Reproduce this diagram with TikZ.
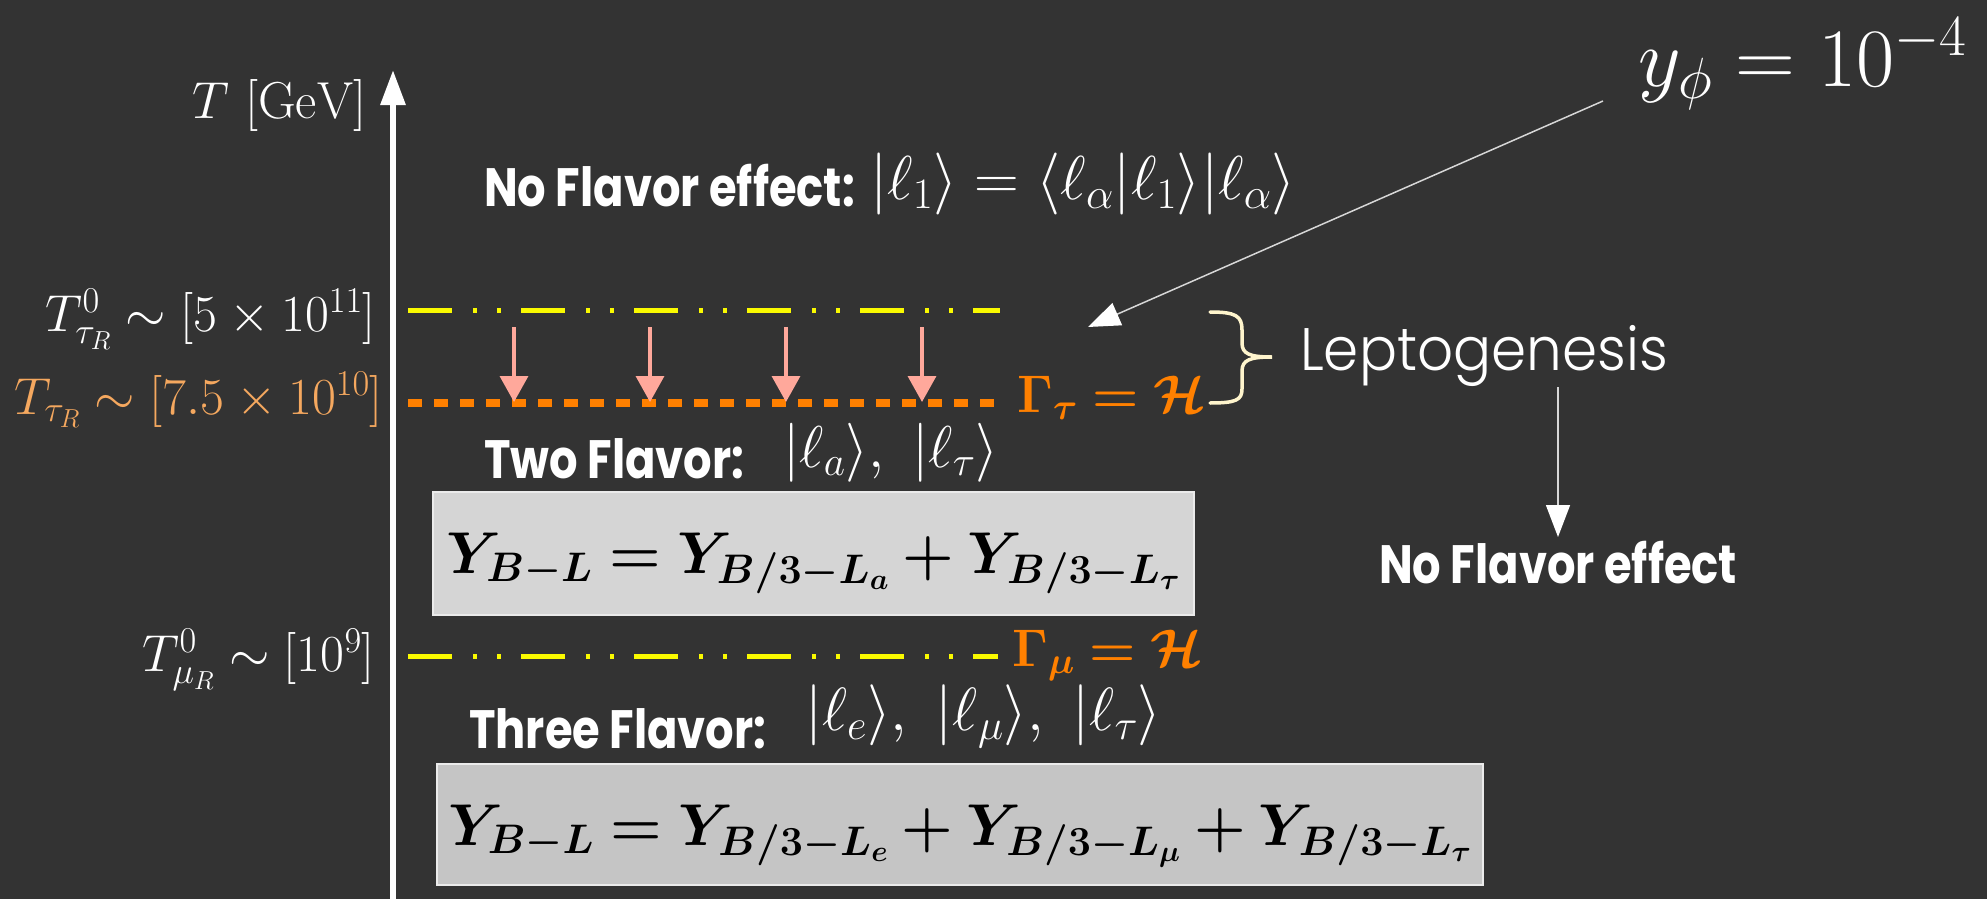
\RequirePackage{fix-cm}
\documentclass[tikz,border=0pt]{standalone}
\usepackage[no-math]{fontspec}
\usepackage{amsmath,bm}
\newfontfamily\gothic[FakeStretch=0.83]{Poppins}
\newfontfamily\gothiclight[FakeStretch=0.94]{Poppins Light}
\usetikzlibrary{arrows.meta}
\definecolor{bg}{RGB}{51,51,51}
\definecolor{lyellow}{RGB}{250,250,0}
\definecolor{gorange}{RGB}{255,128,0}
\definecolor{tan}{RGB}{245,168,95}
\definecolor{pinkc}{RGB}{255,168,155}
\definecolor{cream}{RGB}{255,245,205}
\definecolor{lgray}{RGB}{215,215,215}
\definecolor{boxa}{RGB}{213,213,213}
\definecolor{boxb}{RGB}{197,197,197}
\definecolor{boxedge}{RGB}{235,235,235}
\begin{document}
\begin{tikzpicture}[x=1pt,y=-1pt,
  lbl/.style={text=white,inner sep=0pt,font={\fontsize{52}{62}\selectfont}},
  ketm/.style={text=white,inner sep=0pt},
  sansb/.style={text=white,inner sep=0pt,font={\gothic\bfseries\fontsize{54}{64}\selectfont}},
  lepto/.style={text=white,inner sep=0pt,font={\gothiclight\fontsize{60}{70}\selectfont}},
  gam/.style={text=gorange,inner sep=0pt,font={\fontsize{53}{63}\selectfont}},
  eqbox/.style={draw=boxedge,line width=2pt,inner sep=0pt,text=black,align=center,font={\fontsize{59}{69}\selectfont}},
  ydash/.style={draw=lyellow,line width=5pt,dash pattern=on 44pt off 21pt on 4pt off 20pt on 4pt off 20pt},
  odot/.style={draw=gorange,line width=8pt,dash pattern=on 14pt off 12pt},
  pinkarrow/.style={draw=pinkc,line width=3.5pt,-{Triangle[length=26pt,width=28pt]}},
  thinarrow/.style={draw=lgray,line width=1.5pt,-{Triangle[length=32pt,width=24pt,color=white]}},
  axisarrow/.style={draw=white,line width=6pt,-{Triangle[length=35pt,width=24pt]}}
]
\fill[bg] (0,0) rectangle (1987,899);
\useasboundingbox (0,0) rectangle (1987,899);

% axis
\coordinate (axb) at (393,899);
\coordinate (axt) at (393,70);
\draw[axisarrow] (axb) -- (axt);
\node[lbl,anchor=base east] (tgev) at (367,118) {$T~[\mathrm{GeV}]$};

% left labels
\node[lbl,anchor=base east] (ttau0) at (376,331) {$T^0_{\tau_R}\sim[5\times10^{11}]$};
\node[lbl,anchor=base east,text=tan] (ttau) at (383,414) {$T_{\tau_R}\sim[7.5\times10^{10}]$};
\node[lbl,anchor=base east] (tmu0) at (375,671) {$T^0_{\mu_R}\sim[10^9]$};

% top row
\node[sansb,anchor=base west] (nfe1) at (484,206) {No Flavor effect:};
\node[ketm,anchor=base west,font={\fontsize{62}{72}\selectfont}] (ket1) at (870,199) {$|\ell_1\rangle=\langle\ell_\alpha|\ell_1\rangle|\ell_\alpha\rangle$};

% y_phi
\node[text=white,inner sep=0pt,font={\fontsize{83}{93}\selectfont},anchor=base east] (yphi) at (1967,86) {$y_\phi=10^{-4}$};

% lines
\coordinate (y1a) at (408,310); \coordinate (y1b) at (1000,310);
\draw[ydash] (y1a) -- (y1b);
\coordinate (o1a) at (408,403); \coordinate (o1b) at (997,403);
\draw[odot] (o1a) -- (o1b);
\foreach \x in {514,650,786,922} \draw[pinkarrow] (\x,327) -- (\x,402);
\node[gam,anchor=base west] (gtau) at (1017,412) {$\bm{\Gamma_\tau=\mathcal{H}}$};

\coordinate (y2a) at (408,656); \coordinate (y2b) at (998,656);
\draw[ydash] (y2a) -- (y2b);
\node[gam,anchor=base west] (gmu) at (1012,666) {$\bm{\Gamma_\mu=\mathcal{H}}$};

% y_phi arrow
\coordinate (ya) at (1603,101);
\coordinate (yb) at (1088,327);
\draw[thinarrow] (ya) -- (yb);

% brace
\draw[cream,line width=3.5pt,line cap=round]
  (1210,312) .. controls (1236,312) and (1242,316) .. (1242,330) -- (1242,343)
  .. controls (1242,354) and (1250,357) .. (1272,357)
  .. controls (1250,357) and (1242,360) .. (1242,371) -- (1242,389)
  .. controls (1242,400) and (1236,403) .. (1210,403);
\node[lepto,anchor=base west] (lep) at (1300,370) {Leptogenesis};
\coordinate (la) at (1558,387); \coordinate (lb) at (1558,537);
\draw[thinarrow] (la) -- (lb);
\node[sansb,anchor=base west] (nfe2) at (1379,583) {No Flavor effect};

% two flavor
\node[sansb,anchor=base west] (two) at (484,478) {Two Flavor:};
\node[ketm,anchor=base west,font={\fontsize{59}{69}\selectfont}] (ket2) at (783,467) {$|\ell_a\rangle,\ |\ell_\tau\rangle$};
\node[eqbox,fill=boxa,minimum width=761pt,minimum height=123pt,text height=40pt,text depth=1pt] (box1) at (813.5,553.5)
  {$\bm{Y_{B-L}=Y_{B/3-L_a}+Y_{B/3-L_\tau}}$};

% three flavor
\node[sansb,anchor=base west] (three) at (469,748) {Three Flavor:};
\node[ketm,anchor=base west,font={\fontsize{61}{71}\selectfont}] (ket3) at (805,730) {$|\ell_e\rangle,\ |\ell_\mu\rangle,\ |\ell_\tau\rangle$};
\node[eqbox,fill=boxb,minimum width=1046pt,minimum height=121pt,text height=42pt,text depth=1pt] (box2) at (960,824.5)
  {$\bm{Y_{B-L}=Y_{B/3-L_e}+Y_{B/3-L_\mu}+Y_{B/3-L_\tau}}$};
\end{tikzpicture}
\end{document}
